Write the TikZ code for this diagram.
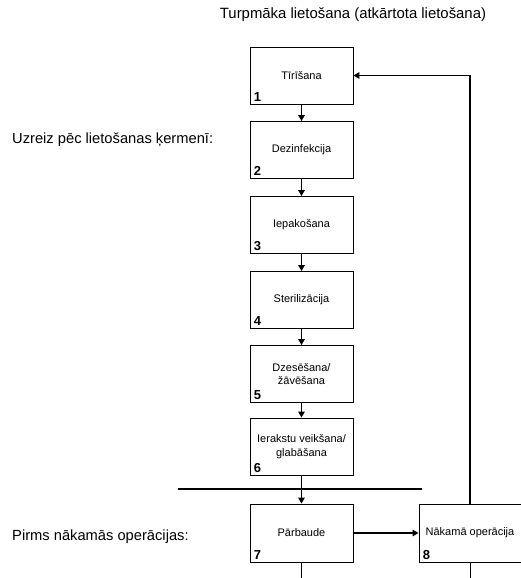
\documentclass[tikz,border=0pt]{standalone}
\usepackage{fontspec}
\setmainfont{Liberation Sans}
\usetikzlibrary{arrows.meta}
\begin{document}
\begin{tikzpicture}[x=1pt,y=-1pt,
  stepbox/.style={draw, line width=0.9pt, minimum width=103pt, minimum height=57pt,
    inner sep=0pt, align=center, font=\fontsize{11}{13.5}\selectfont},
  num/.style={font=\fontsize{13}{14}\bfseries\selectfont, anchor=south west,
    inner sep=0pt, xshift=4pt, yshift=3pt},
  flow/.style={line width=1.6pt, -{Triangle[length=6pt,width=6.5pt]}},
  sidetext/.style={font=\fontsize{14.7}{17}\selectfont, anchor=west, inner sep=0pt},
  plainline/.style={line width=0.9pt}
]
\useasboundingbox (0,0) rectangle (521,578);

% headings
\node[font=\fontsize{14.9}{17}\selectfont] (title) at (353,15) {Turpmāka lietošana (atkārtota lietošana)};
\node[sidetext] (after) at (12,140) {Uzreiz pēc lietošanas ķermenī:};
\node[sidetext] (before) at (12,537) {Pirms nākamās operācijas:};

% process steps
\node[stepbox] (s1) at (301.5,75.5)  {Tīrīšana};
\node[stepbox] (s2) at (301.5,150)   {Dezinfekcija};
\node[stepbox] (s3) at (301.5,225)   {Iepakošana};
\node[stepbox] (s4) at (301.5,300)   {Sterilizācija};
\node[stepbox] (s5) at (301.5,374)   {Dzesēšana/\\žāvēšana};
\node[stepbox] (s6) at (301.5,446.5) {Ierakstu veikšana/\\glabāšana};
\node[stepbox, minimum height=58pt] (s7) at (301.5,533) {Pārbaude};
\node[stepbox, minimum height=58pt, minimum width=102pt] (s8) at (470,533) {Nākamā operācija};

% step numbers
\foreach \i in {1,...,8} {
  \node[num] (n\i) at (s\i.south west) {\i};
}

% separator between storage and inspection
\coordinate (sepL) at (178,489);
\coordinate (sepR) at (422,489);
\draw[line width=1.6pt] (sepL) -- (sepR);

% sequence arrows
\draw[flow] (s1) -- (s2);
\draw[flow] (s2) -- (s3);
\draw[flow] (s3) -- (s4);
\draw[flow] (s4) -- (s5);
\draw[flow] (s5) -- (s6);
\draw[flow] (s6) -- (s7);
\draw[flow] (s7) -- (s8);

% return path for reuse
\draw[flow] (s8.north) |- (s1.east);

% continuation below the last row
\coordinate (e7) at (301.5,578);
\coordinate (e8) at (470,578);
\draw[plainline] (s7.south) -- (e7);
\draw[plainline] (s8.south) -- (e8);
\end{tikzpicture}
\end{document}
